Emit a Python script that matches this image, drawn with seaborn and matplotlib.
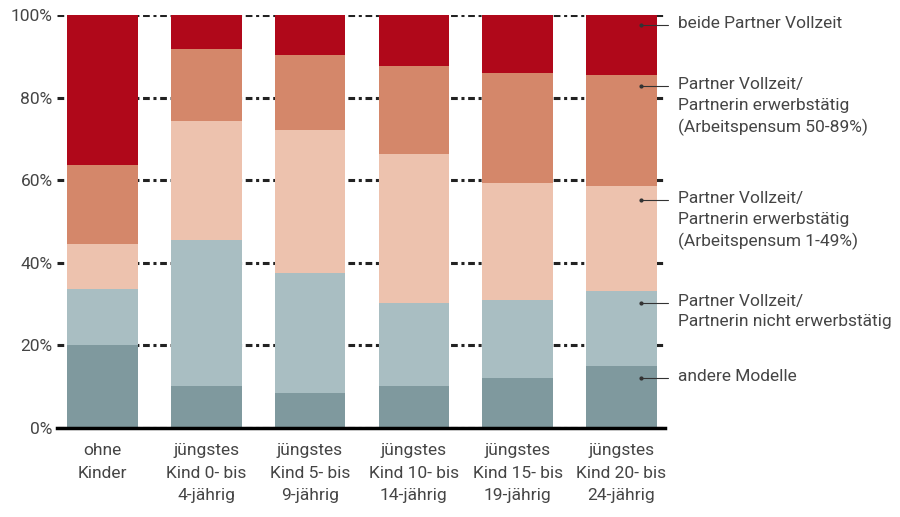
import pandas as pd
import matplotlib.pyplot as plt
import seaborn as sns

# Categories (x axis)
groups = ['ohne\nKinder', 'jüngstes\nKind 0- bis\n4-jährig', 'jüngstes\nKind 5- bis\n9-jährig',
          'jüngstes\nKind 10- bis\n14-jährig', 'jüngstes\nKind 15- bis\n19-jährig',
          'jüngstes\nKind 20- bis\n24-jährig']

# Shares in percent, bottom to top
andere = [20.1, 10.2, 8.5, 10.2, 12.1, 15.0]
nicht_erwerb = [13.6, 35.3, 29.0, 20.1, 18.9, 18.2]
pensum_1_49 = [10.9, 28.8, 34.7, 36.0, 28.3, 25.4]
pensum_50_89 = [19.1, 17.5, 18.1, 21.4, 26.7, 26.9]
beide_vollzeit = [36.3, 8.2, 9.7, 12.3, 14.0, 14.5]

series_names = ['andere Modelle',
                'Partner Vollzeit/\nPartnerin nicht erwerbstätig',
                'Partner Vollzeit/\nPartnerin erwerbstätig\n(Arbeitspensum 1-49%)',
                'Partner Vollzeit/\nPartnerin erwerbstätig\n(Arbeitspensum 50-89%)',
                'beide Partner Vollzeit']
colors = ['#7f999e', '#a9bec2', '#edc2ae', '#d4876a', '#b0081a']
# where the label pointer sits (axes fraction)
label_y = [0.121, 0.303, 0.552, 0.828, 0.976]

df = pd.DataFrame({'group': groups, 'andere': andere, 'nicht': nicht_erwerb,
                   'p1': pensum_1_49, 'p50': pensum_50_89, 'beide': beide_vollzeit})
cols = ['andere', 'nicht', 'p1', 'p50', 'beide']
cum = df[cols].cumsum(axis=1)

sns.set_style('white')
plt.rcParams['font.family'] = ['Roboto', 'DejaVu Sans']

fig = plt.figure(figsize=(9, 5.17), dpi=100)
ax = fig.add_axes([0.063, 0.172, 0.676, 0.799])

# draw cumulative totals from top to bottom so lower segments overlay
for col, color in reversed(list(zip(cols, colors))):
    sns.barplot(x=df['group'], y=cum[col], color=color, width=0.68,
                saturation=1, linewidth=0, ax=ax, zorder=2)

ax.set_ylim(0, 100)
ax.set_xlim(-0.44, 5.42)
ax.set_yticks([0, 20, 40, 60, 80, 100])
ax.set_yticklabels(['0%', '20%', '40%', '60%', '80%', '100%'])
ax.yaxis.grid(True, color='#222222', linewidth=2.2, linestyle=(0, (2.2, 1.2, 1, 1.2)), zorder=0)
ax.set_axisbelow(True)
ax.set_xlabel('')
ax.set_ylabel('')
ax.tick_params(axis='both', length=0, labelsize=12.5, labelcolor='#454545')
ax.tick_params(axis='x', pad=11)
ax.tick_params(axis='y', pad=3)
for lbl in ax.get_xticklabels():
    lbl.set_linespacing(1.6)
for s in ['top', 'right', 'left']:
    ax.spines[s].set_visible(False)
ax.spines['bottom'].set_color('black')
ax.spines['bottom'].set_linewidth(2.5)
ax.spines['bottom'].set_zorder(5)

# right-hand labels
for name, y in zip(series_names, label_y):
    ax.plot([0.96, 1.005], [y, y], transform=ax.transAxes, color='#333333',
            linewidth=0.8, clip_on=False, zorder=6)
    ax.plot([0.96], [y], 'o', transform=ax.transAxes, color='#333333',
            markersize=2, clip_on=False, zorder=6)
    ax.text(1.022, y + 0.022, name, transform=ax.transAxes, va='top', ha='left',
            fontsize=12.5, color='#454545', linespacing=1.47)

plt.savefig('out.png', dpi=100)
plt.close()
